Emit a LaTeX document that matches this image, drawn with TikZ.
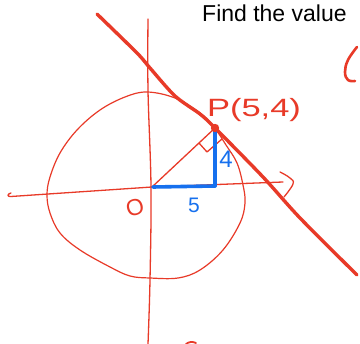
\documentclass[tikz,border=0pt]{standalone}
\usepackage{fontspec}
\setmainfont{Liberation Sans}
\definecolor{pen}{RGB}{232,58,40}
\definecolor{bpen}{RGB}{22,112,238}
\tikzset{
  thinpen/.style={draw=pen, line width=1.3pt, line cap=round, line join=round},
  thickpen/.style={draw=pen, line width=3.4pt, line cap=round, line join=round},
  bluepen/.style={draw=bpen, line width=3.6pt, line cap=round},
  redlabel/.style={text=pen, inner sep=0pt},
  bluelabel/.style={text=bpen, inner sep=0pt}
}
\begin{document}
\begin{tikzpicture}[x=1pt,y=-1pt]
\useasboundingbox (0,0) rectangle (360,344);
\clip (0,0) rectangle (360,344);
\fill[white] (0,0) rectangle (360,344);
% heading
\node[anchor=base west, inner sep=0pt, font=\fontsize{23}{26}\selectfont] (title) at (202,22) {Find the value};
% right bracket stroke
\draw[thickpen, line width=2.6pt] plot[smooth, tension=0.7] coordinates {(357,47) (348,60) (345,72) (348,80) (355,81)};
% axes
\coordinate (O) at (152,187);
\coordinate (P) at (215,128);
\draw[thinpen] plot[smooth, tension=0.6] coordinates {(148,19) (148,90) (151,187) (150,280) (148,344)};
\draw[thinpen] (11,193) .. controls (7,194) and (7,197) .. (11,196.5) -- (O) -- (283,182);
\draw[thinpen] plot[smooth, tension=0.7] coordinates {(280,172) (290,178) (293,184) (284,197)};
% circle
\draw[thinpen, line width=1.2pt] plot[smooth cycle, tension=0.6] coordinates {
 (147,92) (175,98) (200,113) (214,127) (226,145) (237,163) (243,185) (245,203)
 (240,223) (223,250) (200,270) (178,278) (150,278) (130,276) (110,267) (80,250)
 (60,233) (50,213) (47,195) (50,177) (60,153) (77,130) (100,110) (125,97)};
% tangent line
\draw[thickpen] plot[smooth, tension=0.5] coordinates {(97,14) (137,53) (150,68) (175,96) (200,114) (P) (263,177) (300,218) (357,275)};
% radius
\draw[thinpen] (O) -- (P);
% right angle mark
\draw[thinpen] (199,143) -- (207,152) -- (222,139);
% blue legs
\coordinate (F) at (215,186);
\draw[bluepen] (153,187) -- (F);
\draw[bluepen] (215,130) -- (F);
% point P
\fill[pen] (P) circle (4.2pt);
% labels
\node[redlabel, font=\fontsize{25}{28}\selectfont, xscale=1.38] (plabel) at (254,110) {P(5,4)};
\node[bluelabel, font=\fontsize{24}{28}\selectfont] (four) at (226,159) {4};
\node[bluelabel, font=\fontsize{21}{24}\selectfont] (five) at (194,205) {5};
\node[redlabel, font=\fontsize{23}{26}\selectfont, rotate=15] (olabel) at (135,208) {O};
% tiny stroke at bottom edge
\draw[thinpen, line width=1.8pt] (186,344) .. controls (189,341.5) and (193,341.5) .. (196,343);
\end{tikzpicture}
\end{document}
